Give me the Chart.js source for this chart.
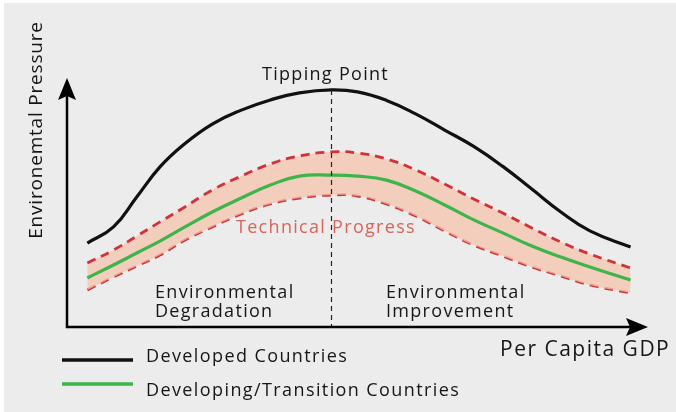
<!DOCTYPE html>
<html>
<head>
<meta charset="utf-8">
<script src="https://cdn.jsdelivr.net/npm/chart.js@4.4.1/dist/chart.umd.min.js"></script>
<style>
    html, body { margin: 0; padding: 0; background: #ffffff; }
    #wrap { position: absolute; left: 0; top: 0; width: 676px; height: 412px; }
</style>
</head>
<body>
<div id="wrap"><canvas id="ekc-chart" width="676" height="412"></canvas></div>
<script>
// Environmental Kuznets curve sketch

const GDP = [3.5, 8, 12, 16, 20, 25, 30, 35, 40, 45.5, 50, 55, 60, 65, 70, 75, 80, 85, 90, 97];
const DEVELOPED = [33.7, 40.2, 52.2, 64.3, 73.1, 81.5, 87.1, 91.2, 94.0, 95.2, 94.4, 91.0, 85.6, 79.1, 72.5, 64.5, 55.4, 46.2, 38.6, 32.1];
const DEVELOPING = [19.7, 24.9, 29.7, 34.5, 39.8, 46.2, 51.8, 57.0, 60.6, 61.0, 60.6, 59.0, 54.6, 49.0, 43.0, 37.8, 32.5, 28.1, 24.1, 18.9];
const BAND_UPPER = [25.7, 30.9, 36.5, 42.2, 47.8, 55.0, 60.6, 65.5, 68.7, 70.3, 69.9, 67.5, 63.1, 57.4, 51.4, 45.8, 39.8, 34.1, 29.3, 23.7];
const BAND_LOWER = [14.9, 20.1, 24.5, 28.9, 34.5, 40.2, 45.4, 49.4, 51.8, 53.0, 52.6, 49.4, 44.6, 38.6, 32.9, 28.5, 24.1, 20.5, 16.9, 13.7];

const TIPPING_X = 45.5;
const SERIES_LABELS = ['Developed Countries', 'Developing/Transition Countries'];
const Y_TITLE = 'Environemtal Pressure';
const X_TITLE = 'Per Capita GDP';

const COLORS = {
    black: '#111111',
    green: '#3db54a',
    red: '#d0323a',
    band: 'rgba(246, 196, 172, 0.75)',
    text: '#161616',
    redText: '#d8645a',
    bg: '#ececec'
};

const FONT = '"Open Sans", "Noto Sans", sans-serif';

function toPoints(ys) {
    return GDP.map((x, i) => ({ x: x, y: ys[i] }));
}

// background, axes, labels, legend
const sketchPlugin = {
    id: 'sketch',
    beforeDraw(chart) {
        const c = chart.ctx;
        c.save();
        c.fillStyle = '#ffffff';
        c.fillRect(0, 0, chart.width, chart.height);
        c.fillStyle = COLORS.bg;
        c.fillRect(4, 3, chart.width - 4, chart.height - 3);
        c.restore();
    },
    afterDatasetsDraw(chart) {
        const c = chart.ctx;
        const a = chart.chartArea;
        const xs = chart.scales.x;
        const ys = chart.scales.y;
        c.save();

        // tipping point dashed line
        const tx = Math.round(xs.getPixelForValue(TIPPING_X)) + 0.5;
        c.strokeStyle = '#222';
        c.lineWidth = 1.2;
        c.setLineDash([5, 4]);
        c.beginPath();
        c.moveTo(tx, ys.getPixelForValue(95.2));
        c.lineTo(tx, a.bottom);
        c.stroke();
        c.setLineDash([]);

        // axes with arrows
        c.strokeStyle = '#000';
        c.fillStyle = '#000';
        c.lineWidth = 2.5;
        c.beginPath();
        c.moveTo(a.left, a.top + 14);
        c.lineTo(a.left, a.bottom);
        c.lineTo(a.right - 14, a.bottom);
        c.stroke();
        c.beginPath();
        c.moveTo(a.left, a.top);
        c.lineTo(a.left - 9, a.top + 22);
        c.lineTo(a.left, a.top + 18);
        c.lineTo(a.left + 9, a.top + 22);
        c.closePath();
        c.fill();
        c.beginPath();
        c.moveTo(a.right, a.bottom);
        c.lineTo(a.right - 22, a.bottom - 9);
        c.lineTo(a.right - 18, a.bottom);
        c.lineTo(a.right - 22, a.bottom + 9);
        c.closePath();
        c.fill();

        // text labels
        c.letterSpacing = '1.3px';
        c.fillStyle = COLORS.text;
        c.textBaseline = 'middle';
        c.textAlign = 'left';
        c.font = '18px ' + FONT;
        c.fillText('Tipping Point', 262, 75);
        c.fillText('Environmental', 155, 293);
        c.fillText('Degradation', 155, 312);
        c.fillText('Environmental', 386, 293);
        c.fillText('Improvement', 386, 312);
        c.fillStyle = COLORS.redText;
        c.fillText('Technical Progress', 236, 228);

        c.fillStyle = COLORS.text;
        c.font = '21px ' + FONT;
        c.letterSpacing = '1.5px';
        c.fillText(X_TITLE, 500, 350);

        c.save();
        c.translate(37, 130);
        c.rotate(-Math.PI / 2);
        c.textAlign = 'center';
        c.font = '19px ' + FONT;
        c.letterSpacing = '0.8px';
        c.fillText(Y_TITLE, 0, 0);
        c.restore();

        // legend
        const legendColors = [COLORS.black, COLORS.green];
        const lineY = [360, 384];
        const textY = [357, 391];
        c.font = '18px ' + FONT;
        c.letterSpacing = '1.4px';
        SERIES_LABELS.forEach((label, i) => {
            c.strokeStyle = legendColors[i];
            c.lineWidth = 3.5;
            c.beginPath();
            c.moveTo(62, lineY[i]);
            c.lineTo(133, lineY[i]);
            c.stroke();
            c.fillStyle = COLORS.text;
            c.fillText(label, 146, textY[i]);
        });
        c.restore();
    }
};

const lineStyle = { pointRadius: 0, tension: 0.45 };

new Chart(document.getElementById('ekc-chart'), {
    type: 'line',
    data: {
        datasets: [
            {
                ...lineStyle,
                label: 'Band upper',
                data: toPoints(BAND_UPPER),
                borderColor: COLORS.red,
                borderWidth: 2.8,
                borderDash: [9, 6],
                backgroundColor: COLORS.band,
                fill: '+1',
                order: 2
            },
            {
                ...lineStyle,
                label: 'Band lower',
                data: toPoints(BAND_LOWER),
                borderColor: COLORS.red,
                borderWidth: 2.8,
                borderDash: [9, 6],
                fill: false,
                order: 2
            },
            {
                ...lineStyle,
                label: SERIES_LABELS[1],
                data: toPoints(DEVELOPING),
                borderColor: COLORS.green,
                borderWidth: 3.2,
                fill: false,
                order: 1
            },
            {
                ...lineStyle,
                label: SERIES_LABELS[0],
                data: toPoints(DEVELOPED),
                borderColor: COLORS.black,
                borderWidth: 3.2,
                fill: false,
                order: 0
            }
        ]
    },
    options: {
        responsive: false,
        animation: false,
        layout: { padding: { left: 67, right: 28, top: 78, bottom: 85 } },
        plugins: {
            legend: { display: false },
            tooltip: { enabled: false }
        },
        scales: {
            x: { type: 'linear', min: 0, max: 100, display: false },
            y: { type: 'linear', min: 0, max: 100, display: false }
        }
    },
    plugins: [sketchPlugin]
});
</script>
</body>
</html>
